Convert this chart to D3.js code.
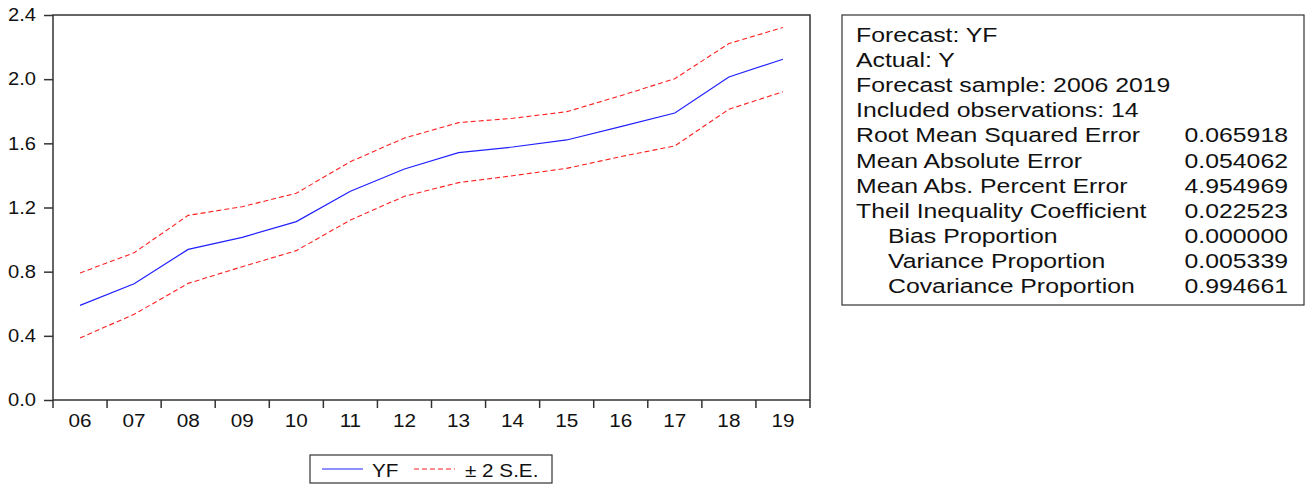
<!DOCTYPE html>
<html><head><meta charset="utf-8">
<script src="https://cdn.jsdelivr.net/npm/d3@7"></script>
<style>body{margin:0;background:#fff}svg{display:block}text{font-family:"Liberation Sans",Arial,sans-serif;fill:#111}</style>
</head><body><svg id="c" width="1310" height="484"></svg>
<script>
const years = ["06","07","08","09","10","11","12","13","14","15","16","17","18","19"];
const yf    = [0.590,0.725,0.939,1.014,1.112,1.301,1.440,1.542,1.577,1.621,1.704,1.789,2.014,2.124];
const upper = [0.792,0.918,1.151,1.205,1.289,1.486,1.633,1.729,1.756,1.797,1.897,2.003,2.222,2.322];
const lower = [0.387,0.534,0.727,0.831,0.931,1.122,1.270,1.355,1.398,1.444,1.517,1.584,1.812,1.922];
const yTicks = [0.0,0.4,0.8,1.2,1.6,2.0,2.4];
const statLabels = ["Forecast: YF","Actual: Y","Forecast sample: 2006 2019","Included observations: 14",
  "Root Mean Squared Error","Mean Absolute Error","Mean Abs. Percent Error","Theil Inequality Coefficient",
  "Bias Proportion","Variance Proportion","Covariance Proportion"];
const statValues = ["","","","","0.065918","0.054062","4.954969","0.022523","0.000000","0.005339","0.994661"];
const statIndent = [0,0,0,0,0,0,0,0,1,1,1];
const legendItems = ["YF","± 2 S.E."];

const svg = d3.select("#c");
const L=53,R=810,T=15,B=400;
const x = d3.scaleBand().domain(years).range([L,R]);
const y = d3.scaleLinear().domain([0,2.4]).range([B,T]);
const axSX = 1.12;

// frame
svg.append("rect").attr("x",L).attr("y",T).attr("width",R-L).attr("height",B-T)
  .attr("fill","none").attr("stroke","#333").attr("stroke-width",1.5);

// y axis
const ya = svg.append("g").attr("transform",`translate(${L},0)`)
  .call(d3.axisLeft(y).tickValues(yTicks).tickFormat(d3.format(".1f")).tickSize(9).tickPadding(8));
ya.select(".domain").remove();
ya.selectAll("line").attr("stroke","#333").attr("stroke-width",1.5);
ya.selectAll("text").attr("font-size",18).attr("fill","#111")
  .each(function(){const t=d3.select(this);const xx=+t.attr("x");t.attr("x",null).attr("transform",`translate(${xx},0) scale(${axSX},1)`);});

// x axis: ticks at band boundaries
const xb = svg.append("g");
const bounds = years.map(d=>x(d)).concat([R]);
xb.selectAll("line").data(bounds).join("line")
  .attr("x1",d=>d).attr("x2",d=>d).attr("y1",B).attr("y2",B+8)
  .attr("stroke","#333").attr("stroke-width",1.5);
xb.selectAll("text").data(years).join("text")
  .attr("transform",d=>`translate(${x(d)+x.bandwidth()/2},427) scale(${axSX},1)`)
  .attr("text-anchor","middle").attr("font-size",18.5).text(d=>d);

// lines
const line = d3.line().x((d,i)=>x(years[i])+x.bandwidth()/2).y(d=>y(d));
svg.append("path").datum(upper).attr("d",line).attr("fill","none").attr("stroke","#ff2020").attr("stroke-width",1.1).attr("stroke-dasharray","5,3");
svg.append("path").datum(lower).attr("d",line).attr("fill","none").attr("stroke","#ff2020").attr("stroke-width",1.1).attr("stroke-dasharray","5,3");
svg.append("path").datum(yf).attr("d",line).attr("fill","none").attr("stroke","#2020ff").attr("stroke-width",1.2);

// legend
const lg = svg.append("g");
lg.append("rect").attr("x",310).attr("y",455).attr("width",242).attr("height",28)
  .attr("fill","#fff").attr("stroke","#333").attr("stroke-width",1.2);
lg.append("line").attr("x1",322).attr("x2",363).attr("y1",469).attr("y2",469).attr("stroke","#2020ff").attr("stroke-width",1.2);
lg.append("line").attr("x1",414).attr("x2",455).attr("y1",469).attr("y2",469).attr("stroke","#ff2020").attr("stroke-width",1.1).attr("stroke-dasharray","5,3");
lg.append("text").attr("transform",`translate(372,477) scale(1.15,1)`).attr("font-size",18).text(legendItems[0]);
lg.append("text").attr("transform",`translate(465,477) scale(1.15,1)`).attr("font-size",18).text(legendItems[1]);

// stats box
const sb = svg.append("g");
sb.append("rect").attr("x",842).attr("y",15).attr("width",462).attr("height",290)
  .attr("fill","#fff").attr("stroke","#333").attr("stroke-width",1.2);
const sSX=1.21, sFS=20.5;
sb.selectAll("text.lab").data(statLabels).join("text").attr("class","lab")
  .attr("transform",(d,i)=>`translate(${statIndent[i]?888:856},${42+i*25.1}) scale(${sSX},1)`)
  .attr("font-size",sFS).text(d=>d);
sb.selectAll("text.val").data(statValues).join("text").attr("class","val")
  .attr("transform",(d,i)=>`translate(1288,${42+i*25.1}) scale(${sSX},1)`)
  .attr("text-anchor","end").attr("font-size",sFS).text(d=>d);
</script></body></html>
